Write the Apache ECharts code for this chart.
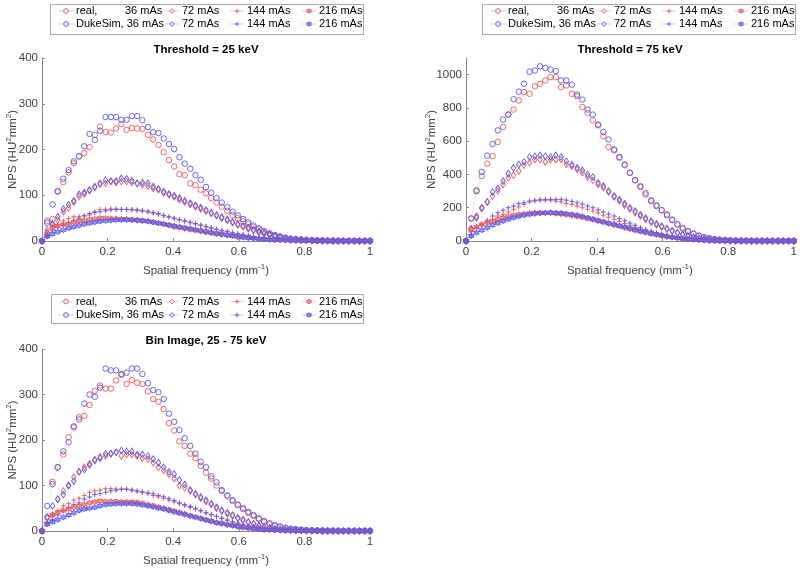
<!DOCTYPE html>
<html>
<head>
<meta charset="utf-8">
<script src="https://cdn.jsdelivr.net/npm/echarts@6/dist/echarts.min.js"></script>
<style>html,body{margin:0;padding:0;background:#fff}#c{width:800px;height:571px}</style>
</head>
<body>
<div id="c"></div>
<script>
// ---------- DATA ----------
const freq = [0, 0.016, 0.032, 0.048, 0.065, 0.081, 0.097, 0.113, 0.129, 0.145,
  0.161, 0.177, 0.194, 0.21, 0.226, 0.242, 0.258, 0.274, 0.29, 0.306,
  0.323, 0.339, 0.355, 0.371, 0.387, 0.403, 0.419, 0.435, 0.452, 0.468,
  0.484, 0.5, 0.516, 0.532, 0.548, 0.565, 0.581, 0.597, 0.613, 0.629,
  0.645, 0.661, 0.677, 0.694, 0.71, 0.726, 0.742, 0.758, 0.774, 0.79,
  0.806, 0.823, 0.839, 0.855, 0.871, 0.887, 0.903, 0.919, 0.935, 0.952,
  0.968, 0.984, 1.0];

const xTicks = [0, 0.2, 0.4, 0.6, 0.8, 1];
const yTicks1 = [0, 100, 200, 300, 400];
const yTicks2 = [0, 200, 400, 600, 800, 1000];
const yTicks3 = [0, 100, 200, 300, 400];

const titles = ['Threshold = 25 keV', 'Threshold = 75 keV', 'Bin Image, 25 - 75 keV'];

// Plot 1: Threshold = 25 keV
const p1_real36 = [0, 44, 48, 108, 129, 150, 170, 185, 192, 205,
  232, 250, 238, 237, 246, 256, 243, 247, 246, 245,
  232, 222, 210, 194, 177, 163, 146, 144, 126, 122,
  112, 104, 94, 84, 75, 66, 57, 50, 43, 37,
  31, 25, 20, 15, 11, 8, 6, 4, 3, 2.5,
  2, 1.5, 1, 1, 0.5, 0.5, 0.3, 0.3, 0.2, 0.2,
  0.2, 0.1, 0.1];
const p1_duke36 = [0, 40, 80, 109, 136, 155, 174, 185, 207, 234,
  221, 241, 271, 271, 271, 265, 265, 273, 273, 264,
  249, 238, 236, 224, 212, 201, 183, 169, 158, 144,
  134, 118, 106, 94, 84, 74, 64, 56, 48, 41,
  34, 28, 22, 17, 13, 10, 7, 5, 4, 3,
  2, 1.5, 1, 1, 0.5, 0.5, 0.3, 0.3, 0.2, 0.2,
  0.2, 0.1, 0.1];
const p1_real72 = [0, 24, 35, 46, 64, 72, 85, 97, 103, 110,
  117, 124, 126, 130, 128, 130, 130, 128, 126, 123,
  120, 115, 112, 105, 101, 96, 90, 85, 80, 75,
  70, 65, 60, 55, 50, 45, 40, 35, 31, 27,
  23, 19, 16, 13, 10, 7.5, 5.5, 4, 3, 2,
  1.5, 1, 1, 0.5, 0.5, 0.3, 0.3, 0.2, 0.2, 0.1,
  0.1, 0.1, 0.1];
const p1_duke72 = [0, 18, 38, 53, 70, 79, 88, 102, 106, 112,
  119, 126, 133, 131, 131, 137, 136, 132, 126, 128,
  126, 119, 114, 108, 103, 99, 94, 88, 83, 78,
  73, 68, 62, 57, 52, 47, 42, 37, 33, 29,
  25, 21, 17, 14, 11, 8, 6, 4.5, 3.5, 2.5,
  1.5, 1, 1, 0.5, 0.5, 0.3, 0.3, 0.2, 0.2, 0.1,
  0.1, 0.1, 0.1];
const p1_real144 = [0, 18, 31, 35, 44, 49, 53, 53, 55, 57,
  64, 69, 69, 70, 70, 69, 69, 68, 67, 65,
  63, 61, 58, 55, 52, 49, 46, 43, 40, 37,
  34, 31, 28, 25, 22, 20, 17, 15, 13, 11,
  9, 7, 6, 5, 4, 3, 2, 1.5, 1, 1,
  0.5, 0.5, 0.5, 0.3, 0.3, 0.2, 0.2, 0.1, 0.1, 0.1,
  0.1, 0.1, 0.1];
const p1_duke144 = [0, 10, 22, 30, 35, 40, 45, 50, 55, 60,
  62, 64, 66, 68, 69, 69, 69, 69, 68, 67,
  65, 62, 60, 56, 53, 50, 47, 44, 41, 38,
  35, 32, 29, 26, 23, 21, 18, 16, 14, 12,
  10, 8, 6.5, 5, 4, 3, 2, 1.5, 1, 1,
  0.5, 0.5, 0.5, 0.3, 0.3, 0.2, 0.2, 0.1, 0.1, 0.1,
  0.1, 0.1, 0.1];
const p1_real216 = [0, 12, 28, 33, 36, 38, 41, 44, 45, 47,
  48, 50, 50, 49, 49, 48, 48, 47, 46, 45,
  43, 41, 39, 37, 34, 31, 29, 27, 25, 23,
  21, 19, 17, 15, 14, 12, 11, 9, 8, 7,
  6, 5, 4, 3, 2.5, 2, 1.5, 1.2, 1, 0.8,
  0.6, 0.5, 0.4, 0.3, 0.3, 0.2, 0.2, 0.2, 0.1, 0.1,
  0.1, 0.1, 0.1];
const p1_duke216 = [0, 10, 15, 20, 24, 28, 31, 34, 37, 39,
  41, 43, 44, 45, 46, 46, 46, 46, 45, 44,
  43, 41, 39, 37, 35, 33, 31, 29, 27, 25,
  23, 21, 19, 17, 15, 13, 11, 10, 8, 7,
  6, 5, 4, 3, 2.5, 2, 1.5, 1.2, 1, 0.8,
  0.6, 0.5, 0.4, 0.3, 0.3, 0.2, 0.2, 0.2, 0.1, 0.1,
  0.1, 0.1, 0.1];

// Plot 2: Threshold = 75 keV
const p2_real36 = [0, 135, 305, 390, 465, 510, 595, 685, 760, 790,
  845, 895, 885, 930, 945, 965, 985, 985, 925, 935,
  885, 870, 805, 770, 725, 695, 630, 565, 545, 500,
  455, 410, 365, 330, 290, 245, 215, 185, 160, 130,
  100, 80, 60, 45, 33, 24, 17, 12, 8, 6,
  4, 3, 2, 1.5, 1, 0.7, 0.5, 0.4, 0.3, 0.2,
  0.2, 0.1, 0.1];
const p2_duke36 = [0, 135, 300, 415, 513, 583, 665, 730, 760, 852,
  898, 945, 1017, 1025, 1050, 1040, 1030, 1022, 965, 965,
  940, 880, 850, 790, 760, 700, 655, 610, 550, 505,
  460, 410, 365, 325, 280, 240, 210, 185, 155, 125,
  100, 75, 57, 42, 30, 21, 15, 10, 7, 5,
  3, 2, 1.5, 1, 1, 0.5, 0.5, 0.3, 0.3, 0.2,
  0.2, 0.1, 0.1];
const p2_real72 = [0, 75, 150, 195, 235, 270, 300, 340, 380, 395,
  420, 455, 470, 490, 490, 475, 490, 490, 490, 460,
  450, 430, 410, 385, 365, 340, 320, 295, 265, 240,
  215, 192, 170, 150, 130, 112, 97, 83, 70, 58,
  47, 37, 28, 21, 15, 10, 7, 5, 3.5, 2.5,
  1.5, 1, 1, 0.5, 0.5, 0.3, 0.3, 0.2, 0.2, 0.1,
  0.1, 0.1, 0.1];
const p2_duke72 = [0, 70, 140, 200, 235, 295, 315, 360, 405, 440,
  460, 475, 505, 510, 515, 510, 505, 515, 505, 480,
  460, 440, 425, 400, 385, 350, 330, 300, 270, 250,
  225, 200, 180, 158, 138, 120, 104, 90, 76, 63,
  51, 40, 31, 23, 17, 12, 8, 6, 4, 3,
  2, 1.5, 1, 1, 0.5, 0.5, 0.3, 0.3, 0.2, 0.2,
  0.1, 0.1, 0.1];
const p2_real144 = [0, 55, 75, 95, 115, 130, 150, 160, 175, 190,
  205, 220, 235, 240, 245, 245, 245, 240, 235, 225,
  220, 210, 200, 190, 180, 168, 155, 143, 130, 118,
  105, 95, 83, 72, 62, 52, 43, 35, 28, 22,
  17, 13, 9, 7, 5, 3.5, 2.5, 2, 1.5, 1,
  1, 0.5, 0.5, 0.3, 0.3, 0.2, 0.2, 0.1, 0.1, 0.1,
  0.1, 0.1, 0.1];
const p2_duke144 = [0, 35, 80, 100, 125, 150, 170, 185, 200, 210,
  225, 230, 240, 245, 248, 250, 250, 250, 250, 245,
  238, 230, 222, 210, 200, 188, 175, 162, 150, 135,
  122, 108, 95, 82, 70, 60, 50, 41, 33, 26,
  20, 15, 11, 8, 6, 4, 3, 2, 1.5, 1,
  1, 0.5, 0.5, 0.3, 0.3, 0.2, 0.2, 0.1, 0.1, 0.1,
  0.1, 0.1, 0.1];
const p2_real216 = [0, 70, 85, 100, 110, 120, 130, 140, 148, 155,
  160, 163, 167, 170, 170, 168, 167, 165, 162, 158,
  153, 148, 142, 135, 128, 120, 112, 104, 96, 88,
  80, 72, 64, 57, 50, 43, 37, 31, 26, 21,
  17, 13, 10, 7.5, 5.5, 4, 3, 2, 1.5, 1,
  1, 0.5, 0.5, 0.3, 0.3, 0.2, 0.2, 0.1, 0.1, 0.1,
  0.1, 0.1, 0.1];
const p2_duke216 = [0, 30, 50, 65, 80, 95, 108, 120, 130, 140,
  148, 155, 160, 164, 167, 170, 172, 170, 168, 164,
  160, 155, 148, 140, 132, 124, 116, 108, 100, 92,
  84, 76, 68, 60, 53, 46, 40, 34, 28, 23,
  18, 14, 11, 8, 6, 4, 3, 2, 1.5, 1,
  1, 0.5, 0.5, 0.3, 0.3, 0.2, 0.2, 0.1, 0.1, 0.1,
  0.1, 0.1, 0.1];

// Plot 3: Bin Image, 25 - 75 keV
const p3_real36 = [0, 30, 108, 140, 168, 206, 228, 250, 253, 277,
  308, 320, 313, 313, 331, 343, 323, 332, 326, 323,
  307, 290, 284, 268, 237, 221, 197, 187, 170, 160,
  143, 128, 115, 100, 88, 77, 66, 57, 48, 40,
  33, 26, 20, 15, 11, 8, 6, 4, 3, 2,
  1.5, 1, 1, 0.5, 0.5, 0.3, 0.3, 0.2, 0.2, 0.2,
  0.1, 0.1, 0.1];
const p3_duke36 = [0, 55, 103, 140, 175, 195, 230, 245, 280, 300,
  295, 315, 357, 353, 353, 345, 348, 357, 357, 345,
  325, 310, 305, 290, 258, 240, 222, 204, 187, 170,
  152, 140, 120, 107, 90, 78, 68, 58, 50, 42,
  35, 28, 22, 17, 13, 10, 7, 5, 4, 3,
  2, 1.5, 1, 1, 0.5, 0.5, 0.3, 0.3, 0.2, 0.2,
  0.1, 0.1, 0.1];
const p3_real72 = [0, 30, 35, 70, 88, 100, 118, 130, 140, 148,
  157, 163, 165, 170, 173, 165, 168, 168, 165, 160,
  158, 150, 140, 133, 125, 115, 100, 95, 88, 80,
  72, 65, 58, 50, 44, 38, 33, 28, 23, 19,
  15, 11, 8, 6, 4.5, 3, 2, 1.5, 1, 1,
  0.5, 0.5, 0.5, 0.3, 0.3, 0.2, 0.2, 0.1, 0.1, 0.1,
  0.1, 0.1, 0.1];
const p3_duke72 = [0, 30, 55, 70, 80, 100, 110, 130, 135, 145,
  155, 160, 170, 170, 173, 177, 175, 175, 168, 168,
  165, 158, 150, 140, 130, 125, 112, 102, 90, 82,
  75, 68, 60, 52, 45, 40, 35, 29, 25, 20,
  16, 12, 9, 7, 5, 3.5, 2.5, 2, 1.5, 1,
  0.5, 0.5, 0.5, 0.3, 0.3, 0.2, 0.2, 0.1, 0.1, 0.1,
  0.1, 0.1, 0.1];
const p3_real144 = [0, 20, 35, 45, 55, 60, 68, 72, 78, 85,
  88, 90, 93, 93, 92, 92, 92, 90, 87, 85,
  82, 78, 75, 72, 68, 64, 60, 56, 52, 48,
  44, 40, 36, 32, 28, 24, 20, 17, 14, 11,
  9, 7, 5, 4, 3, 2, 1.5, 1, 1, 0.5,
  0.5, 0.5, 0.3, 0.3, 0.2, 0.2, 0.1, 0.1, 0.1, 0.1,
  0.1, 0.1, 0.1];
const p3_duke144 = [0, 18, 25, 35, 45, 52, 58, 62, 70, 75,
  80, 82, 85, 88, 90, 92, 92, 90, 88, 86,
  84, 82, 78, 75, 71, 67, 62, 58, 54, 50,
  45, 40, 36, 32, 28, 24, 20, 17, 14, 11,
  9, 7, 5, 4, 3, 2, 1.5, 1, 1, 0.5,
  0.5, 0.5, 0.3, 0.3, 0.2, 0.2, 0.1, 0.1, 0.1, 0.1,
  0.1, 0.1, 0.1];
const p3_real216 = [0, 15, 35, 40, 45, 48, 52, 55, 58, 62,
  64, 66, 65, 65, 65, 64, 64, 64, 63, 61,
  58, 56, 53, 50, 47, 44, 41, 38, 34, 31,
  28, 25, 22, 19, 17, 14, 12, 10, 8, 6.5,
  5, 4, 3, 2.5, 2, 1.5, 1, 1, 0.5, 0.5,
  0.5, 0.3, 0.3, 0.2, 0.2, 0.2, 0.1, 0.1, 0.1, 0.1,
  0.1, 0.1, 0.1];
const p3_duke216 = [0, 15, 20, 25, 30, 35, 40, 45, 48, 50,
  52, 55, 58, 59, 60, 60, 60, 60, 59, 57,
  55, 53, 50, 48, 45, 42, 39, 36, 33, 30,
  27, 24, 21, 18, 16, 14, 12, 10, 8, 6.5,
  5, 4, 3, 2.5, 2, 1.5, 1, 1, 0.5, 0.5,
  0.5, 0.3, 0.3, 0.2, 0.2, 0.2, 0.1, 0.1, 0.1, 0.1,
  0.1, 0.1, 0.1];

const legendLabels = {
  real36: '{a|real,}{b|36 mAs}', duke36: 'DukeSim, 36 mAs',
  real72: '72 mAs', duke72: '72 mAs',
  real144: '144 mAs', duke144: '144 mAs',
  real216: '216 mAs', duke216: '216 mAs'
};

// ---------- STYLE ----------
const RED = '#ec5858', BLUE = '#5858ec';
const FONT = '"Liberation Sans", Arial, Helvetica, sans-serif';
const SYM = {
  circle: 'circle',
  diamond: 'diamond',
  plus: 'path://M0,5L10,5M5,0L5,10',
  star: 'path://M5,0L6.44,2.5L9.33,2.5L7.89,5L9.33,7.5L6.44,7.5L5,10L3.56,7.5L0.67,7.5L2.11,5L0.67,2.5L3.56,2.5Z'
};
const seriesDefs = [
  {key: 'real36', color: RED, sym: 'circle', size: 5.5, fill: 'rgba(0,0,0,0)'},
  {key: 'duke36', color: BLUE, sym: 'circle', size: 5.5, fill: 'rgba(0,0,0,0)'},
  {key: 'real72', color: RED, sym: 'diamond', size: [4.5, 6.5], fill: 'rgba(0,0,0,0)'},
  {key: 'duke72', color: BLUE, sym: 'diamond', size: [4.5, 6.5], fill: 'rgba(0,0,0,0)'},
  {key: 'real144', color: RED, sym: 'plus', size: 5, fill: 'rgba(0,0,0,0)'},
  {key: 'duke144', color: BLUE, sym: 'plus', size: 5, fill: 'rgba(0,0,0,0)'},
  {key: 'real216', color: RED, sym: 'star', size: 5.5, fill: 'rgba(236,88,88,0.6)'},
  {key: 'duke216', color: BLUE, sym: 'star', size: 5.5, fill: 'rgba(88,88,236,0.6)'}
];
const plotData = [
  {real36: p1_real36, duke36: p1_duke36, real72: p1_real72, duke72: p1_duke72,
   real144: p1_real144, duke144: p1_duke144, real216: p1_real216, duke216: p1_duke216},
  {real36: p2_real36, duke36: p2_duke36, real72: p2_real72, duke72: p2_duke72,
   real144: p2_real144, duke144: p2_duke144, real216: p2_real216, duke216: p2_duke216},
  {real36: p3_real36, duke36: p3_duke36, real72: p3_real72, duke72: p3_duke72,
   real144: p3_real144, duke144: p3_duke144, real216: p3_real216, duke216: p3_duke216}
];

// layout
const grids = [
  {left: 42, top: 58, width: 328, height: 183},
  {left: 466, top: 58, width: 329, height: 183},
  {left: 42, top: 349, width: 328, height: 182}
];
const yMax = [400, 1100, 400];
const yTickSets = [yTicks1, yTicks2, yTicks3];
const yNameGap = [22, 27, 22];
const titlePos = [{x: 206, y: 44}, {x: 630, y: 44}, {x: 206, y: 335}];
const legendBoxes = [
  {x: 50, y: 4, w: 313, h: 30, rows: [12.5, 25.5], dx: 0},
  {x: 482, y: 4, w: 313, h: 30, rows: [12.5, 25.5], dx: 432},
  {x: 51, y: 294, w: 312, h: 29, rows: [303, 316.5], dx: 0}
];
const colX = [65, 171, 236, 308];

const axisColor = '#8a8a8a';
const labelColor = '#404040';
const supRich = {s: {fontSize: 8, verticalAlign: 'top', padding: [0, 0, 7, 0], fontFamily: FONT, color: labelColor}};

const option = {
  animation: false,
  backgroundColor: '#fff',
  textStyle: {fontFamily: FONT},
  title: titles.map((t, i) => ({
    text: t, left: titlePos[i].x, top: titlePos[i].y, textAlign: 'center', padding: 0,
    textStyle: {fontSize: 11.5, fontWeight: 'bold', color: '#000', fontFamily: FONT}
  })),
  grid: grids,
  xAxis: grids.map((g, i) => ({
    type: 'value', gridIndex: i, min: 0, max: 1, interval: 0.2,
    name: 'Spatial frequency (mm{s|-1})', nameLocation: 'middle', nameGap: 22, nameMoveOverlap: false,
    nameTextStyle: {fontSize: 11.5, color: labelColor, fontFamily: FONT, rich: supRich},
    axisLine: {lineStyle: {color: axisColor, width: 1}},
    axisTick: {inside: true, length: 3, lineStyle: {color: axisColor}},
    axisLabel: {fontSize: 11.5, color: labelColor, margin: 5, fontFamily: FONT,
      customValues: xTicks, formatter: v => String(v)},
    splitLine: {show: false}
  })),
  yAxis: grids.map((g, i) => ({
    type: 'value', gridIndex: i, min: 0, max: yMax[i],
    name: 'NPS (HU{s|2}mm{s|2})', nameLocation: 'middle', nameGap: yNameGap[i], nameMoveOverlap: false,
    nameTextStyle: {fontSize: 11.5, color: labelColor, fontFamily: FONT, rich: supRich},
    axisLine: {show: true, lineStyle: {color: axisColor, width: 1}},
    axisTick: {show: true, inside: true, length: 3, lineStyle: {color: axisColor}, customValues: yTickSets[i]},
    axisLabel: {fontSize: 11.5, color: labelColor, margin: 4, fontFamily: FONT,
      customValues: yTickSets[i], formatter: v => String(v)},
    splitLine: {show: false}
  })),
  legend: [],
  graphic: legendBoxes.map(b => ({
    type: 'rect', z: -1, silent: true,
    shape: {x: b.x + 0.5, y: b.y + 0.5, width: b.w, height: b.h},
    style: {fill: '#fff', stroke: '#a8a8a8', lineWidth: 1}
  })),
  series: []
};

plotData.forEach((pd, pi) => {
  seriesDefs.forEach((d, si) => {
    const name = 'p' + (pi + 1) + '_' + d.key;
    option.series.push({
      name: name, type: 'line', xAxisIndex: pi, yAxisIndex: pi,
      data: freq.map((f, k) => [f, pd[d.key][k]]),
      symbol: SYM[d.sym], symbolSize: d.size, showSymbol: true, showAllSymbol: true,
      lineStyle: {color: '#d0d0d0', width: 0.5, opacity: 0.5},
      itemStyle: {color: d.fill, borderColor: d.color, borderWidth: 0.9},
      emphasis: {disabled: true},
      z: 2 + si
    });
    const b = legendBoxes[pi];
    const col = Math.floor(si / 2), row = si % 2;
    option.legend.push({
      data: [name], left: colX[col] + b.dx - 7, top: b.rows[row] - 7,
      padding: 0, itemWidth: 14, itemHeight: 6, itemGap: 0, selectedMode: false,
      formatter: legendLabels[d.key],
      itemStyle: {borderWidth: 0.9},
      textStyle: {fontSize: 11, color: '#000', fontFamily: FONT, padding: [0, 0, 0, -2],
        rich: {a: {width: 49, fontSize: 11, fontFamily: FONT, color: '#000'},
               b: {fontSize: 11, fontFamily: FONT, color: '#000'}}}
    });
  });
});

const chart = echarts.init(document.getElementById('c'), null, {renderer: 'canvas'});
chart.setOption(option);
</script>
</body>
</html>
